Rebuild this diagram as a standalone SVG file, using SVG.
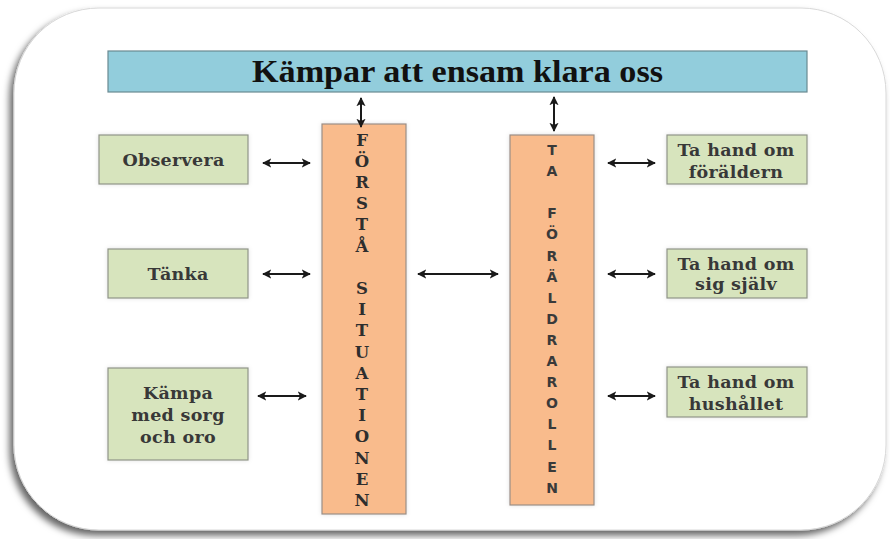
<svg xmlns="http://www.w3.org/2000/svg" width="890" height="539" viewBox="0 0 890 539">
<defs>
<filter id="cardShadow" x="-5%" y="-5%" width="110%" height="112%">
<feDropShadow dx="-4" dy="5" stdDeviation="3.5" flood-color="#000" flood-opacity="0.6"/>
</filter>
<filter id="soft" x="-10%" y="-10%" width="120%" height="120%">
<feDropShadow dx="0" dy="0" stdDeviation="2" flood-color="#000" flood-opacity="0.12"/>
</filter>
<marker id="ah" viewBox="0 0 10 10" refX="9" refY="5" markerWidth="4.6" markerHeight="4.6" orient="auto-start-reverse" markerUnits="strokeWidth">
<path d="M0,0 L10,5 L0,10 L2.5,5 z" fill="#1a1a1a"/>
</marker>
<style>
.green{fill:#d7e4bd;stroke:#8f9488;stroke-width:1.2}
.orange{fill:#f9bb8c;stroke:#9a8e86;stroke-width:1.2}
.blue{fill:#92cddc;stroke:#6a8a92;stroke-width:1.2}
.lbl{font-family:"DejaVu Serif","Liberation Serif",serif;font-weight:bold;font-size:17.5px;letter-spacing:0.3px;fill:#383838;text-anchor:middle}
.vs{font-family:"DejaVu Serif","Liberation Serif",serif;font-weight:bold;font-size:16.5px;fill:#2e2e2e;text-anchor:middle}
.vss{font-family:"DejaVu Sans","Liberation Sans",sans-serif;font-weight:bold;font-size:14px;fill:#3a3a3a;text-anchor:middle}
.title{font-family:"Liberation Serif","Times New Roman",serif;font-weight:bold;font-size:31px;fill:#111;text-anchor:middle}
.arr{stroke:#1a1a1a;stroke-width:2;fill:none;marker-start:url(#ah);marker-end:url(#ah)}
</style>
</defs>
<rect x="14" y="8" width="872" height="522" rx="85" ry="85" fill="#ffffff" stroke="#d8d8d8" stroke-width="1" filter="url(#cardShadow)"/>
<g id="title">
<rect class="blue" x="108" y="51" width="699" height="41"/>
<text class="title" x="457.5" y="82" textLength="411" lengthAdjust="spacingAndGlyphs">Kämpar att ensam klara oss</text>
</g>
<g id="forsta">
<rect class="orange" x="322" y="124" width="84" height="390" filter="url(#soft)"/>
<text class="vs" x="362" y="145.5">F<tspan x="362" dy="21.2">Ö</tspan><tspan x="362" dy="21.2">R</tspan><tspan x="362" dy="21.2">S</tspan><tspan x="362" dy="21.2">T</tspan><tspan x="362" dy="21.2">Å</tspan><tspan x="362" dy="42.4">S</tspan><tspan x="362" dy="21.2">I</tspan><tspan x="362" dy="21.2">T</tspan><tspan x="362" dy="21.2">U</tspan><tspan x="362" dy="21.2">A</tspan><tspan x="362" dy="21.2">T</tspan><tspan x="362" dy="21.2">I</tspan><tspan x="362" dy="21.2">O</tspan><tspan x="362" dy="21.2">N</tspan><tspan x="362" dy="21.2">E</tspan><tspan x="362" dy="21.2">N</tspan></text>
</g>
<g id="ta">
<rect class="orange" x="510" y="135" width="84" height="370" filter="url(#soft)"/>
<text class="vss" x="552" y="155">T<tspan x="552" dy="21.1">A</tspan><tspan x="552" dy="42.2">F</tspan><tspan x="552" dy="21.1">Ö</tspan><tspan x="552" dy="21.1">R</tspan><tspan x="552" dy="21.1">Ä</tspan><tspan x="552" dy="21.1">L</tspan><tspan x="552" dy="21.1">D</tspan><tspan x="552" dy="21.1">R</tspan><tspan x="552" dy="21.1">A</tspan><tspan x="552" dy="21.1">R</tspan><tspan x="552" dy="21.1">O</tspan><tspan x="552" dy="21.1">L</tspan><tspan x="552" dy="21.1">L</tspan><tspan x="552" dy="21.1">E</tspan><tspan x="552" dy="21.1">N</tspan></text>
</g>
<g id="observera">
<rect class="green" x="99" y="135" width="149" height="49" filter="url(#soft)"/>
<text class="lbl" x="173.5" y="166">Observera</text>
</g>
<g id="tanka">
<rect class="green" x="108" y="249" width="140" height="49" filter="url(#soft)"/>
<text class="lbl" x="178" y="280">Tänka</text>
</g>
<g id="kampa">
<rect class="green" x="108" y="368" width="140" height="92" filter="url(#soft)"/>
<text class="lbl" x="178" y="399">Kämpa</text>
<text class="lbl" x="178" y="421">med sorg</text>
<text class="lbl" x="178" y="443">och oro</text>
</g>
<g id="foraldern">
<rect class="green" x="667" y="135" width="140" height="49" filter="url(#soft)"/>
<text class="lbl" x="736" y="156">Ta hand om</text>
<text class="lbl" x="736" y="177.5">föräldern</text>
</g>
<g id="sigsjalv">
<rect class="green" x="667" y="249" width="140" height="49" filter="url(#soft)"/>
<text class="lbl" x="736" y="270">Ta hand om</text>
<text class="lbl" x="736" y="290">sig själv</text>
</g>
<g id="hushallet">
<rect class="green" x="667" y="367" width="140" height="50" filter="url(#soft)"/>
<text class="lbl" x="736" y="388">Ta hand om</text>
<text class="lbl" x="736" y="409.5">hushållet</text>
</g>
<g id="connectors">
<line class="arr" x1="361" y1="98" x2="361" y2="127"/>
<line class="arr" x1="554" y1="97" x2="554" y2="131"/>
<line class="arr" x1="263" y1="163" x2="310" y2="163"/>
<line class="arr" x1="263" y1="274" x2="310" y2="274"/>
<line class="arr" x1="258" y1="396" x2="306" y2="396"/>
<line class="arr" x1="418" y1="274" x2="498" y2="274"/>
<line class="arr" x1="608" y1="163" x2="655" y2="163"/>
<line class="arr" x1="608" y1="274" x2="655" y2="274"/>
<line class="arr" x1="608" y1="396" x2="655" y2="396"/>
</g>
</svg>
